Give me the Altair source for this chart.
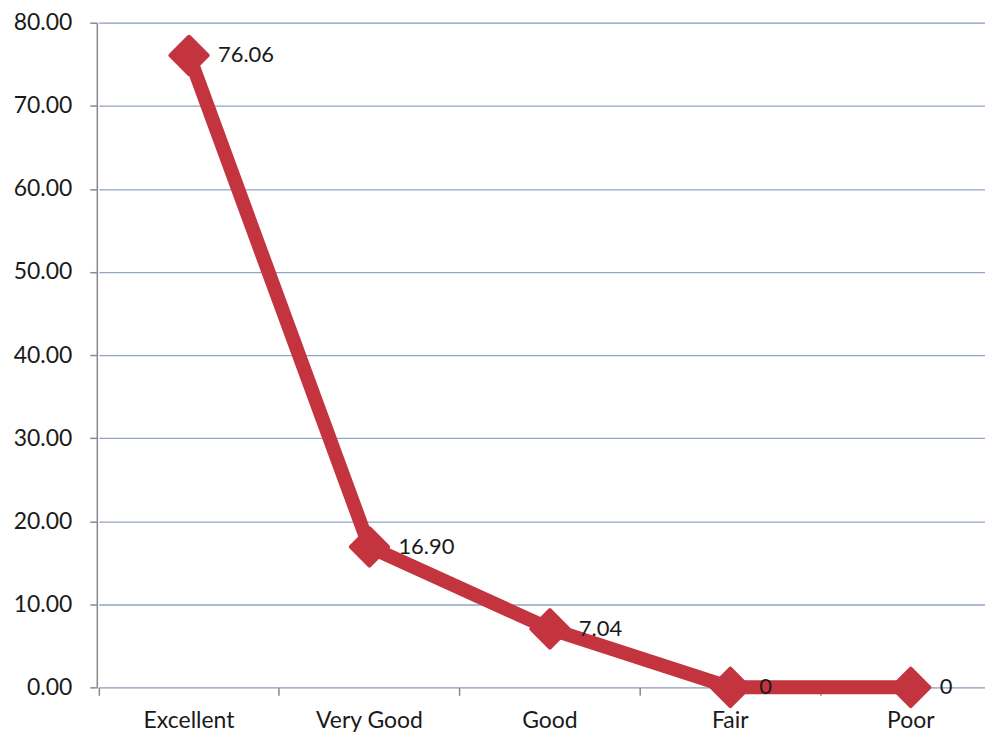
import altair as alt
import pandas as pd

categories = ["Excellent", "Very Good", "Good", "Fair", "Poor"]
values = [76.06, 16.90, 7.04, 0, 0]
value_labels = ["76.06", "16.90", "7.04", "0", "0"]
y_ticks = [0, 10, 20, 30, 40, 50, 60, 70, 80]

df = pd.DataFrame({"category": categories, "value": values, "label": value_labels})

RED = "#C4343F"
FONT = "Lato"

x_enc = alt.X(
    "category:N",
    sort=categories,
    scale=alt.Scale(type="band", range=[2, 906], paddingInner=0, paddingOuter=0),
    axis=alt.Axis(
        title=None,
        domain=False,
        bandPosition=0,
        tickSize=8,
        tickColor="#8a8a8a",
        tickWidth=1.5,
        labelPadding=14,
        labelFont=FONT,
        labelFontSize=23,
        labelColor="#1a1a1a",
        labelAngle=0,
        grid=False,
    ),
)

y_enc = alt.Y(
    "value:Q",
    scale=alt.Scale(domain=[0, 80], nice=False),
    axis=alt.Axis(
        title=None,
        values=y_ticks,
        format=".2f",
        grid=True,
        gridColor="#8FA3C6",
        gridWidth=1.3,
        domain=True,
        domainColor="#8a8a8a",
        domainWidth=1.5,
        tickSize=7,
        tickColor="#8a8a8a",
        tickWidth=1.5,
        labelPadding=18,
        labelFont=FONT,
        labelFontSize=23,
        labelColor="#1a1a1a",
    ),
)

base = alt.Chart(df)

line = base.mark_line(color=RED, strokeWidth=14, strokeJoin="round").encode(x=x_enc, y=y_enc)

points = base.mark_point(
    shape="diamond", filled=True, size=1400, color=RED,
    stroke=RED, strokeWidth=4, strokeJoin="round", opacity=1
).encode(x=alt.X("category:N", sort=categories), y="value:Q")

labels = base.mark_text(
    align="left", baseline="middle", dx=29, font=FONT, fontSize=22, color="#1a1a1a"
).encode(x=alt.X("category:N", sort=categories), y="value:Q", text="label:N")

chart = (
    alt.layer(line, points, labels)
    .properties(
        width=890,
        height=666,
        autosize=alt.AutoSizeParams(type="none"),
        padding={"left": 89, "top": 14, "right": 0, "bottom": 48},
    )
    .configure_view(stroke=None)
    .configure(background="white")
)

chart.save("out.html", embed_options={"renderer": "svg", "actions": False})
